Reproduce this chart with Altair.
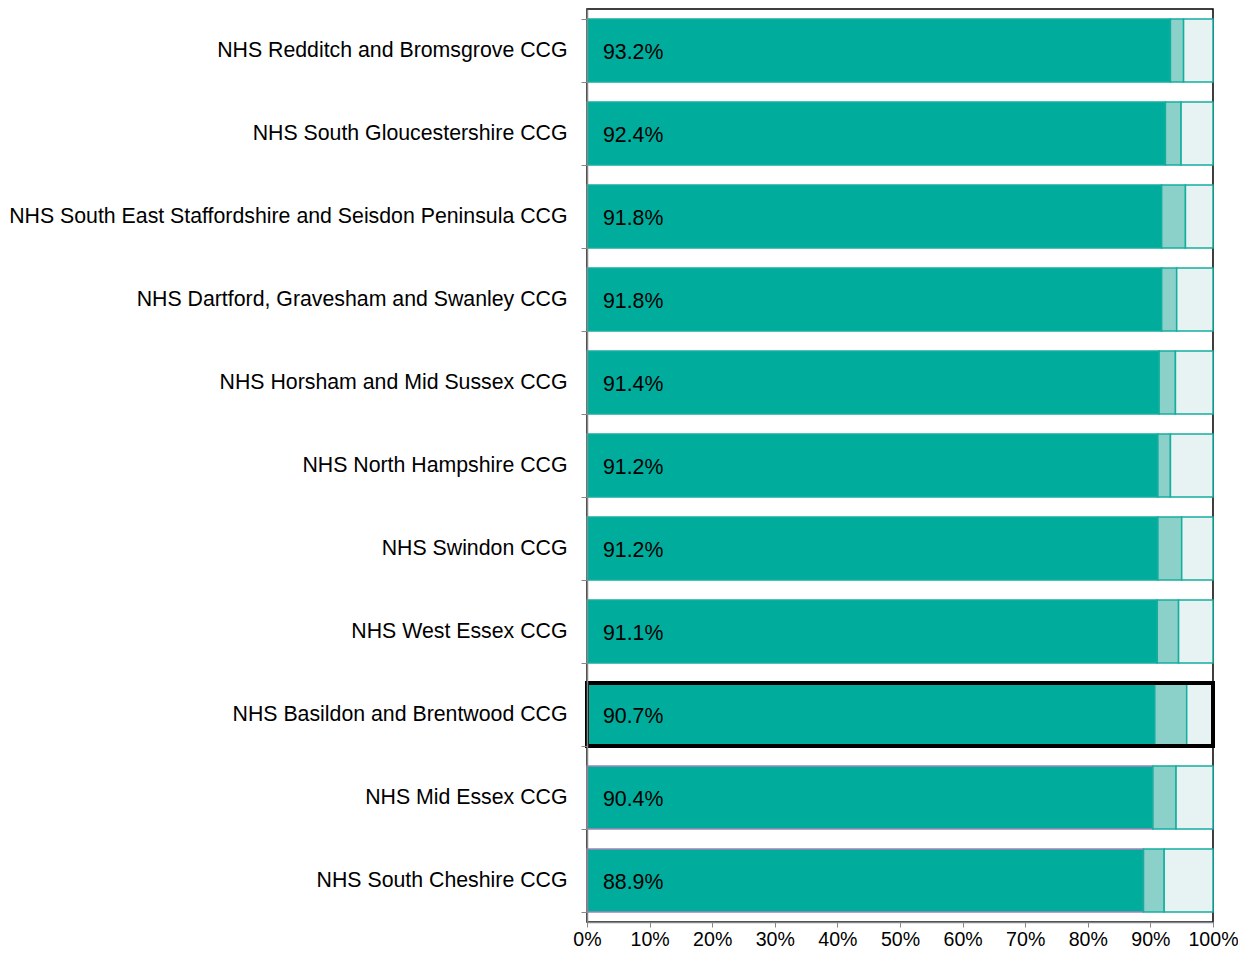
import altair as alt
import pandas as pd

ccgs = [
    "NHS Redditch and Bromsgrove CCG",
    "NHS South Gloucestershire CCG",
    "NHS South East Staffordshire and Seisdon Peninsula CCG",
    "NHS Dartford, Gravesham and Swanley CCG",
    "NHS Horsham and Mid Sussex CCG",
    "NHS North Hampshire CCG",
    "NHS Swindon CCG",
    "NHS West Essex CCG",
    "NHS Basildon and Brentwood CCG",
    "NHS Mid Essex CCG",
    "NHS South Cheshire CCG",
]
main = [93.2, 92.4, 91.8, 91.8, 91.4, 91.2, 91.2, 91.1, 90.7, 90.4, 88.9]
middle = [2.1, 2.5, 3.8, 2.4, 2.6, 2.0, 3.8, 3.4, 5.1, 3.7, 3.3]
rest = [round(100 - m - d, 1) for m, d in zip(main, middle)]
highlight = "NHS Basildon and Brentwood CCG"
purple_edged = ["NHS Mid Essex CCG", "NHS South Cheshire CCG"]

segments = ["main", "middle", "rest"]
seg_colors = ["#00AC9C", "#8CD1C9", "#E6F3F2"]

rows = []
for i, name in enumerate(ccgs):
    for o, (seg, val) in enumerate(zip(segments, (main[i], middle[i], rest[i]))):
        edge = "purple" if (seg == "main" and name in purple_edged) else "teal"
        rows.append(dict(ccg=name, segment=seg, value=val, order=o, edge=edge))
df = pd.DataFrame(rows)
lab = pd.DataFrame({"ccg": ccgs, "main": main,
                    "label": [f"{v:.1f}%" for v in main]})
hl = pd.DataFrame({"ccg": [highlight], "x0": [0], "x1": [100]})

FONT = "Liberation Sans"
FS = 21.3
XFS = 19.6

yenc = alt.Y(
    "ccg:N", sort=ccgs, title=None,
    scale=alt.Scale(paddingInner=0.24, paddingOuter=0.12),
    axis=alt.Axis(tickBand="extent", tickSize=6, tickColor="#888888",
                  domainColor="#888888", domainWidth=1.5, labelPadding=14,
                  labelFontSize=FS, labelFont=FONT, labelColor="#000000",
                  labelLimit=700, zindex=1),
)
xscale = alt.Scale(domain=[0, 100], nice=False)
xaxis = alt.Axis(values=list(range(0, 101, 10)), labelExpr="datum.value + '%'",
                 tickSize=5, tickColor="#888888", domainColor="#888888",
                 domainWidth=1.5, labelFontSize=XFS, labelFont=FONT,
                 labelColor="#000000", labelPadding=3, grid=False, zindex=1,
                 labelFlush=False)

bars = alt.Chart(df).mark_bar(strokeWidth=1.5).encode(
    x=alt.X("value:Q", stack="zero", scale=xscale, axis=xaxis, title=None),
    y=yenc,
    color=alt.Color("segment:N", scale=alt.Scale(domain=segments, range=seg_colors), legend=None),
    stroke=alt.Stroke("edge:N", scale=alt.Scale(domain=["teal", "purple"],
                                                range=["#14AE9F", "#9C86B6"]), legend=None),
    order=alt.Order("order:Q"),
)

text = alt.Chart(lab).mark_text(align="left", baseline="middle", dx=16, dy=2,
                                fontSize=FS, font=FONT, color="#000000").encode(
    x=alt.datum(0),
    y=alt.Y("ccg:N", sort=ccgs),
    text="label:N",
)

box = alt.Chart(hl).mark_bar(fill=None, stroke="#000000", strokeWidth=4).encode(
    x=alt.X("x0:Q", scale=xscale),
    x2="x1:Q",
    y=alt.Y("ccg:N", sort=ccgs),
)

chart = alt.layer(bars, text, box).properties(
    width=626, height=913,
    autosize=alt.AutoSizeParams(type="none"),
    padding={"left": 579, "top": 1, "right": 25, "bottom": 29},
    background="#ffffff",
).configure_view(stroke="#000000", strokeWidth=1.5)

chart.save("out.html", embed_options={"renderer": "svg", "actions": False})
